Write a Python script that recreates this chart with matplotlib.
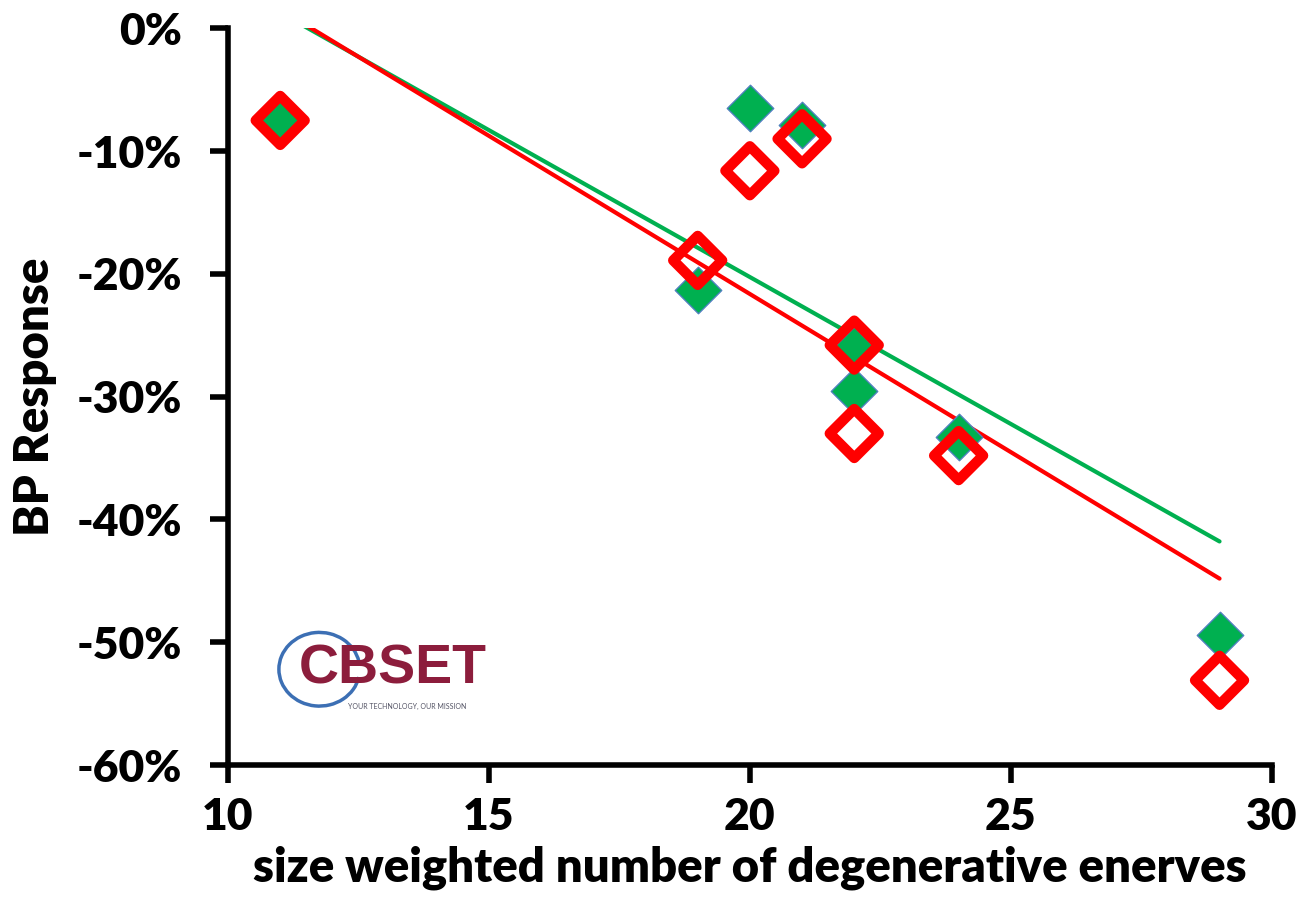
import numpy as np
import matplotlib
matplotlib.use("Agg")
import matplotlib.pyplot as plt
from matplotlib.patches import Arc

# data
nerves = [11, 19, 20, 21, 22, 22, 24, 29]
bp_green = [-7.1, -21.3, -6.5, -7.9, -26.2, -29.5, -33.3, -49.4]
bp_red = [-7.5, -18.9, -11.6, -9.0, -25.8, -33.0, -34.8, -53.1]

plt.rcParams['font.family'] = ['Lato', 'DejaVu Sans']
plt.rcParams['font.weight'] = 'heavy'

fig = plt.figure(figsize=(13.03, 9.14), dpi=100)
ax = fig.add_axes([0.175, 0.163, 0.801, 0.806])

# linear trendlines
xs = np.array([min(nerves), max(nerves)])
for ys, col in [(bp_green, "#00B050"), (bp_red, "#FF0000")]:
    k, b = np.polyfit(nerves, ys, 1)
    ax.plot(xs, k * xs + b, color=col, lw=3, solid_capstyle="round", zorder=2)

ax.scatter(nerves, bp_green, marker="D", s=560, color="#00B050",
           edgecolors="#4F81BD", linewidths=1, zorder=3)
ax.scatter(nerves, bp_red, marker="D", s=620, facecolors="none",
           edgecolors="#FF0000", linewidths=7.5, zorder=4)

ax.set_xlim(10, 30)
ax.set_ylim(-60, 0)
ax.set_xticks([10, 15, 20, 25, 30])
ax.set_yticks(range(-60, 1, 10))
ax.set_yticklabels([f"{v}%" for v in range(-60, 1, 10)])
ax.tick_params(width=4, length=13, labelsize=32, direction="out")
ax.tick_params(axis="y", pad=20)
ax.tick_params(axis="x", pad=10)
for s in ["top", "right"]:
    ax.spines[s].set_visible(False)
for s in ["left", "bottom"]:
    ax.spines[s].set_linewidth(4)

ax.set_xlabel("size weighted number of degenerative enerves", fontsize=34,
              fontweight="heavy", labelpad=6)
ax.set_ylabel("BP Response", fontsize=34, fontweight="heavy", labelpad=14)

# logo stand-in
ax.add_patch(Arc((11.75, -52.2), 1.55, 6.0, theta1=40, theta2=320,
                 color="#3C6FB4", lw=2.5, zorder=1))
ax.text(11.35, -52.2, "CBSET", fontsize=40, color="#8C1D3C", fontweight="bold",
        family="Liberation Sans", va="center", ha="left")
ax.text(12.3, -55.2, "YOUR TECHNOLOGY, OUR MISSION", fontsize=5, color="#556",
        fontweight="normal", va="center", ha="left")

fig.savefig("out.png", dpi=100)
